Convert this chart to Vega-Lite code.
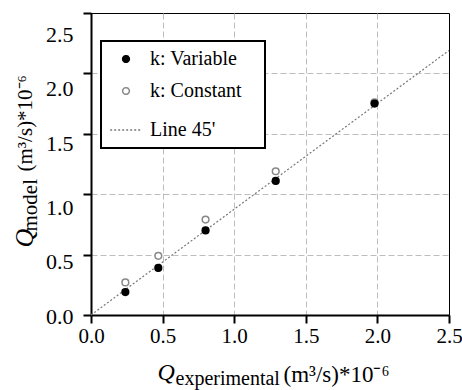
{
  "$schema": "https://vega.github.io/schema/vega-lite/v6.json",
  "width": 358,
  "height": 302,
  "autosize": {"type": "none"},
  "padding": {"left": 91, "top": 13, "right": 13, "bottom": 75},
  "background": "white",
  "config": {
    "view": {"stroke": "black", "strokeWidth": 1},
    "axis": {"labelFont": "Liberation Serif", "titleFont": "Liberation Serif", "labelColor": "black", "titleColor": "black", "titleFontWeight": "normal", "titlePadding": 0},
    "legend": {"orient": "none", "legendX": 10, "legendY": 28, "padding": 8, "strokeColor": "black", "fillColor": "white", "labelFont": "Liberation Serif", "labelFontSize": 20, "labelColor": "black", "labelOffset": 7, "rowPadding": 12, "symbolStrokeWidth": 1.5, "labelLimit": 300}
  },
  "resolve": {"scale": {"x": "independent", "y": "independent"}, "axis": {"x": "independent", "y": "independent"}},
  "layer": [
    {
      "data": {"values": [{"series": "Line 45'", "qe": 0, "qm": 0}, {"series": "Line 45'", "qe": 2.5, "qm": 2.19}]},
      "mark": {"type": "line", "strokeWidth": 1.2},
      "encoding": {
        "x": {"field": "qe", "type": "quantitative", "scale": {"domain": [0, 2.5], "nice": false, "zero": false},
          "axis": {"orient": "bottom", "title": "Q", "titleFont": "Liberation Serif", "titleFontStyle": "italic", "titleFontSize": 24, "titleAlign": "left", "titleBaseline": "alphabetic", "titleX": 66, "titleY": 64,
            "values": [0, 0.5, 1, 1.5, 2, 2.5], "format": ".1f", "labelFont": "Liberation Serif", "labelFontSize": 21, "labelFlush": false, "labelPadding": 2,
            "tickColor": "black", "tickWidth": 2, "tickSize": 8, "domainColor": "black", "domainWidth": 2,
            "grid": true, "gridColor": {"condition": {"test": "datum.value == 0 || datum.value == 2.5", "value": "transparent"}, "value": "#bdbdbd"}, "gridDash": [6, 3], "gridWidth": 1}},
        "y": {"field": "qm", "type": "quantitative", "scale": {"domain": [0, 2.5], "nice": false, "zero": false},
          "axis": {"orient": "left", "title": "Q", "titleFont": "Liberation Serif", "titleFontStyle": "italic", "titleFontSize": 26, "titleAngle": -90, "titleAlign": "left", "titleBaseline": "alphabetic", "titleX": -59, "titleY": 234,
            "values": [0, 0.5, 1, 1.5, 2, 2.5], "format": ".1f", "labelFont": "Liberation Serif", "labelFontSize": 22, "labelPadding": 10,
            "labelOffset": {"condition": [{"test": "datum.value == 2.5", "value": 21}, {"test": "datum.value == 2", "value": 15}, {"test": "datum.value == 1.5", "value": 10}, {"test": "datum.value == 1", "value": 13}, {"test": "datum.value == 0.5", "value": 7}], "value": 1},
            "tickColor": "black", "tickWidth": 2, "tickSize": 8, "domainColor": "black", "domainWidth": 2,
            "grid": true, "gridColor": {"condition": {"test": "datum.value == 0 || datum.value == 2.5", "value": "transparent"}, "value": "#bdbdbd"}, "gridDash": [6, 3], "gridWidth": 1}},
        "stroke": {"field": "series", "type": "nominal", "scale": {"domain": ["k: Variable", "k: Constant", "Line 45'"], "range": ["black", "#888888", "#777777"]},
          "legend": {"title": null, "labelExpr": "datum.label + '\u00a0\u00a0\u00a0\u200b'", "encode": {"legend": {"update": {"strokeWidth": {"value": 2}}}}}},
        "strokeDash": {"field": "series", "type": "nominal", "scale": {"domain": ["k: Variable", "k: Constant", "Line 45'"], "range": [[1, 0], [1, 0], [2, 2]]},
          "legend": {"title": null, "labelExpr": "datum.label + '\u00a0\u00a0\u00a0\u200b'", "encode": {"legend": {"update": {"strokeWidth": {"value": 2}}}}}}
      }
    },
    {
      "data": {"values": [
        {"series": "k: Constant", "qe": 0.24, "qm": 0.27},
        {"series": "k: Constant", "qe": 0.47, "qm": 0.49},
        {"series": "k: Constant", "qe": 0.80, "qm": 0.79},
        {"series": "k: Constant", "qe": 1.29, "qm": 1.19},
        {"series": "k: Constant", "qe": 1.98, "qm": 1.76}
      ]},
      "mark": {"type": "point", "filled": true, "opacity": 1, "strokeWidth": 1.5},
      "encoding": {
        "x": {"field": "qe", "type": "quantitative", "scale": {"domain": [0, 2.5], "nice": false, "zero": false},
          "axis": {"orient": "bottom", "title": "experimental", "titleFont": "Liberation Serif", "titleFontSize": 20, "titleAlign": "left", "titleBaseline": "alphabetic", "titleX": 84, "titleY": 69,
            "ticks": false, "labels": false, "domain": false, "grid": false}},
        "y": {"field": "qm", "type": "quantitative", "scale": {"domain": [0, 2.5], "nice": false, "zero": false},
          "axis": {"orient": "left", "title": "model", "titleFont": "Liberation Serif", "titleFontSize": 21, "titleAngle": -90, "titleAlign": "left", "titleBaseline": "alphabetic", "titleX": -55, "titleY": 218,
            "ticks": false, "labels": false, "domain": false, "grid": false}},
        "fill": {"field": "series", "type": "nominal", "scale": {"domain": ["k: Variable", "k: Constant", "Line 45'"], "range": ["black", "white", "transparent"]},
          "legend": {"title": null, "labelExpr": "datum.label + '\u00a0\u00a0\u00a0\u200b'", "encode": {"legend": {"update": {"strokeWidth": {"value": 2}}}}}},
        "stroke": {"field": "series", "type": "nominal", "scale": {"domain": ["k: Variable", "k: Constant", "Line 45'"], "range": ["black", "#888888", "#777777"]},
          "legend": {"title": null, "labelExpr": "datum.label + '\u00a0\u00a0\u00a0\u200b'", "encode": {"legend": {"update": {"strokeWidth": {"value": 2}}}}}},
        "shape": {"field": "series", "type": "nominal", "scale": {"domain": ["k: Variable", "k: Constant", "Line 45'"], "range": ["circle", "circle", "stroke"]},
          "legend": {"title": null, "labelExpr": "datum.label + '\u00a0\u00a0\u00a0\u200b'", "encode": {"legend": {"update": {"strokeWidth": {"value": 2}}}}}},
        "size": {"field": "series", "type": "nominal", "scale": {"type": "ordinal", "domain": ["k: Variable", "k: Constant", "Line 45'"], "range": [45, 45, 1000]},
          "legend": {"title": null, "labelExpr": "datum.label + '\u00a0\u00a0\u00a0\u200b'", "encode": {"legend": {"update": {"strokeWidth": {"value": 2}}}}}}
      }
    },
    {
      "data": {"values": [
        {"series": "k: Variable", "qe": 0.24, "qm": 0.19},
        {"series": "k: Variable", "qe": 0.47, "qm": 0.39},
        {"series": "k: Variable", "qe": 0.80, "qm": 0.70},
        {"series": "k: Variable", "qe": 1.29, "qm": 1.11},
        {"series": "k: Variable", "qe": 1.98, "qm": 1.75}
      ]},
      "mark": {"type": "point", "filled": true, "opacity": 1, "strokeWidth": 1.5},
      "encoding": {
        "x": {"field": "qe", "type": "quantitative", "scale": {"domain": [0, 2.5], "nice": false, "zero": false},
          "axis": {"orient": "bottom", "title": "(m³/s)*10⁻⁶", "titleFont": "Liberation Serif", "titleFontSize": 23, "titleAlign": "left", "titleBaseline": "alphabetic", "titleX": 192, "titleY": 66,
            "ticks": false, "labels": false, "domain": false, "grid": false}},
        "y": {"field": "qm", "type": "quantitative", "scale": {"domain": [0, 2.5], "nice": false, "zero": false},
          "axis": {"orient": "left", "title": "(m³/s)*10⁻⁶", "titleFont": "Liberation Serif", "titleFontSize": 21, "titleAngle": -90, "titleAlign": "left", "titleBaseline": "alphabetic", "titleX": -60, "titleY": 158,
            "ticks": false, "labels": false, "domain": false, "grid": false}},
        "fill": {"field": "series", "type": "nominal", "scale": {"domain": ["k: Variable", "k: Constant", "Line 45'"], "range": ["black", "white", "transparent"]},
          "legend": {"title": null, "labelExpr": "datum.label + '\u00a0\u00a0\u00a0\u200b'", "encode": {"legend": {"update": {"strokeWidth": {"value": 2}}}}}},
        "stroke": {"field": "series", "type": "nominal", "scale": {"domain": ["k: Variable", "k: Constant", "Line 45'"], "range": ["black", "#888888", "#777777"]},
          "legend": {"title": null, "labelExpr": "datum.label + '\u00a0\u00a0\u00a0\u200b'", "encode": {"legend": {"update": {"strokeWidth": {"value": 2}}}}}},
        "shape": {"field": "series", "type": "nominal", "scale": {"domain": ["k: Variable", "k: Constant", "Line 45'"], "range": ["circle", "circle", "stroke"]},
          "legend": {"title": null, "labelExpr": "datum.label + '\u00a0\u00a0\u00a0\u200b'", "encode": {"legend": {"update": {"strokeWidth": {"value": 2}}}}}},
        "size": {"field": "series", "type": "nominal", "scale": {"type": "ordinal", "domain": ["k: Variable", "k: Constant", "Line 45'"], "range": [45, 45, 1000]},
          "legend": {"title": null, "labelExpr": "datum.label + '\u00a0\u00a0\u00a0\u200b'", "encode": {"legend": {"update": {"strokeWidth": {"value": 2}}}}}}
      }
    }
  ]
}
